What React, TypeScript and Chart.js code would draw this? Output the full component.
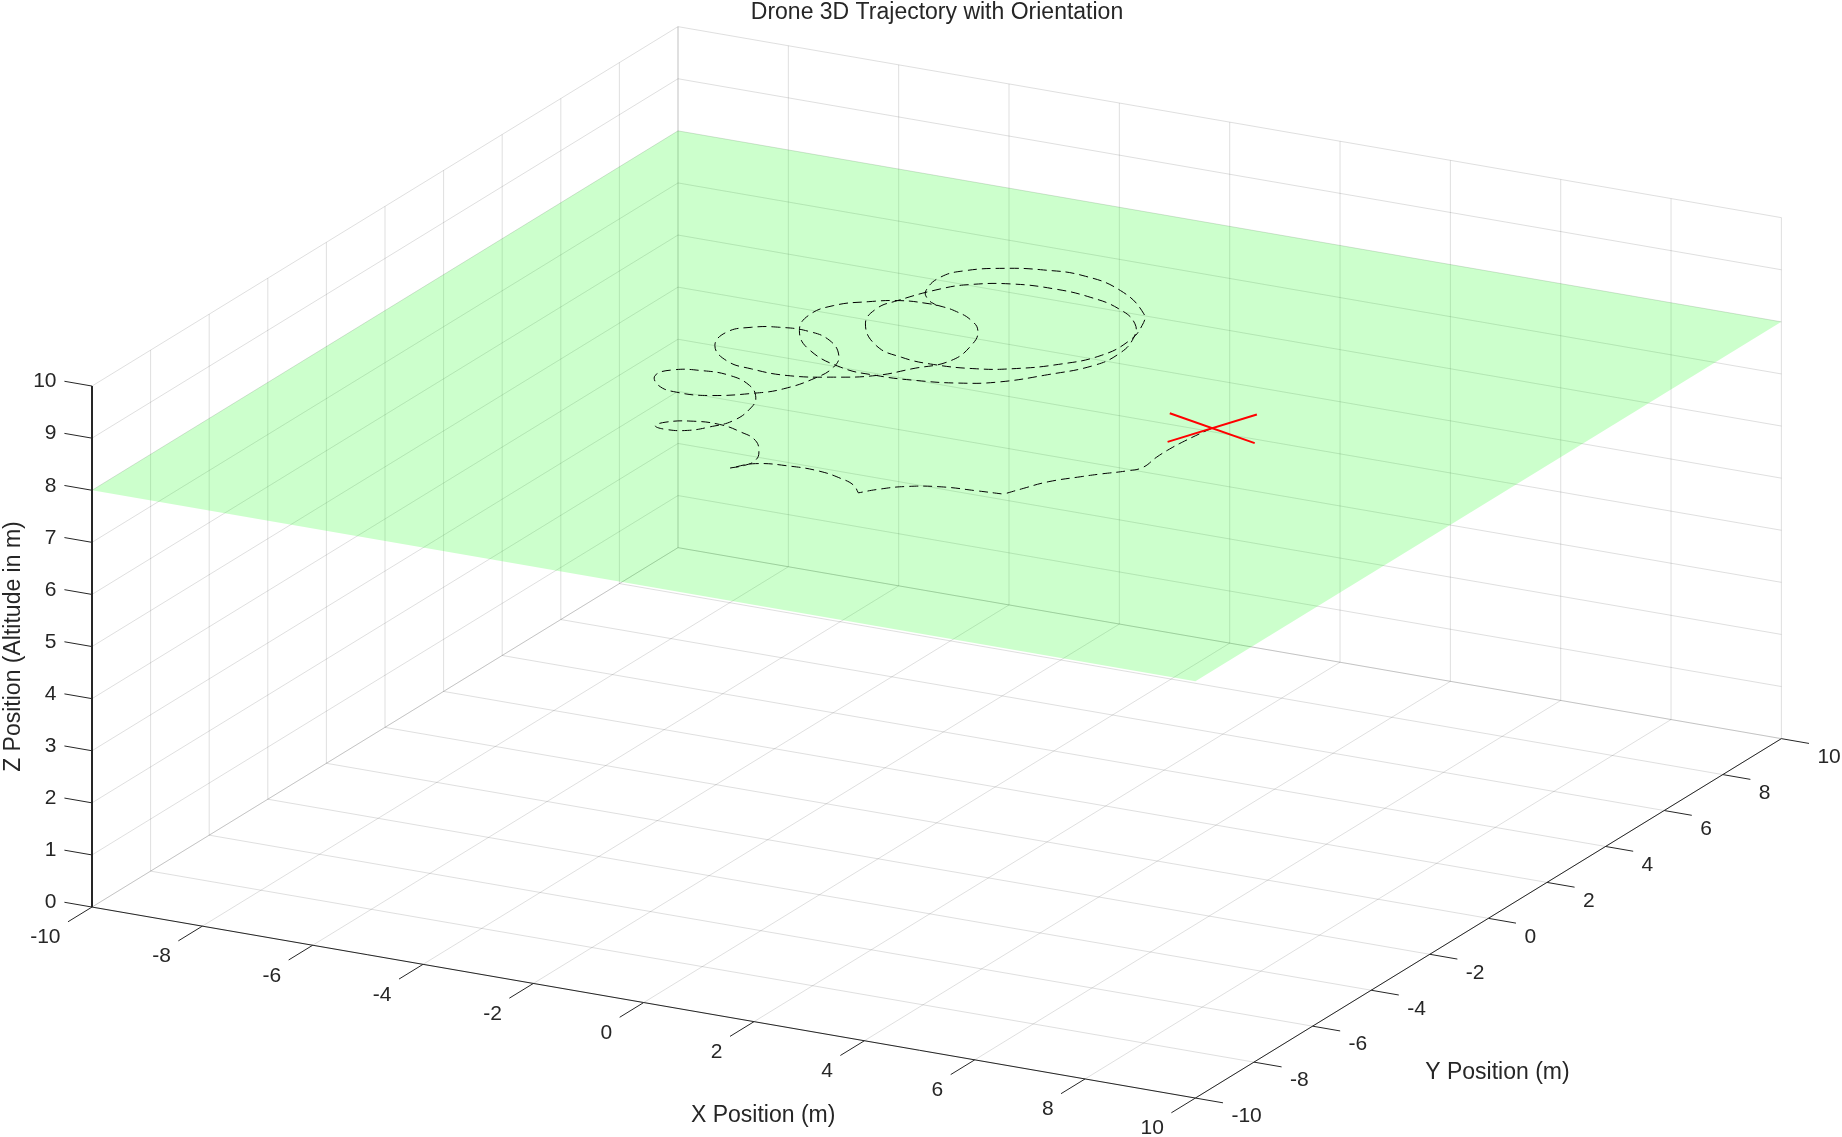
import React, { useEffect, useRef } from "react";
import { Chart, registerables } from "chart.js";

Chart.register(...registerables);

const titleText = "Drone 3D Trajectory with Orientation";
const xLabelText = "X Position (m)";
const yLabelText = "Y Position (m)";
const zLabelText = "Z Position (Altitude in m)";

const xTicks = [-10, -8, -6, -4, -2, 0, 2, 4, 6, 8, 10];
const yTicks = [-10, -8, -6, -4, -2, 0, 2, 4, 6, 8, 10];
const zTicks = [0, 1, 2, 3, 4, 5, 6, 7, 8, 9, 10];

const planeAltitude = 8;
const planeX = [-10, 10, 10, -10, -10];
const planeY = [-10, -10, 10, 10, -10];

const armAX = [3.46, 5.35];
const armAY = [1.44, 0.78];
const armBX = [4.09, 4.72];
const armBY = [0.18, 2.04];

const trajX = [
  4.404, 4.379, 4.31, 4.283, 4.288, 4.328, 4.188, 3.871, 3.66, 3.321, 3.122, 2.976, 2.976, 2.521, 1.925, 1.413,
  1.078, 0.893, 0.893, 0.651, 0.32, -0.151, -0.67, -1.235, -1.488, -1.488, -1.348, -1.312, -1.454, -1.773, -2.168,
  -2.646, -3.127, -3.457, -3.524, -3.288, -2.962, -2.736, -2.538, -2.592, -2.763, -3.118, -3.625, -4.143, -4.563,
  -4.684, -4.403, -3.997, -3.466, -2.865, -2.562, -2.361, -2.355, -2.548, -3.02, -3.538, -4.034, -4.437, -4.674,
  -4.529, -4.021, -3.476, -2.818, -2.125, -1.558, -1.208, -0.845, -0.926, -1.159, -1.506, -1.899, -2.216, -2.52, -2.935,
  -3.365, -3.777, -3.9, -3.68, -3.131, -2.254, -1.558, -0.888, -0.221, 0.311, 0.846, 1.287, 1.371, 1.226, 0.907,
  0.334, -0.339, -1.036, -1.756, -2.345, -2.649, -2.985, -3.095, -2.9, -2.25, -1.628, -1.005, -0.3, 0.204, 0.76,
  1.158, 1.215, 1.046, 0.802, -0.064, -0.939, -1.625, -2.218, -2.718, -2.918, -2.812, -2.595, -2.315,
];
const trajY = [
  1.109, 0.948, 0.337, -0.122, -0.582, -1.117, -1.377, -1.731, -1.991, -2.45, -2.926, -3.319, -3.319, -3.377,
  -3.473, -3.727, -4.072, -4.356, -4.356, -4.06, -3.865, -3.709, -3.708, -3.861, -4.237, -4.237, -4.015, -3.717,
  -3.33, -2.852, -2.6, -2.429, -2.5, -2.731, -2.971, -3.048, -2.93, -2.625, -2.149, -1.437, -0.972, -0.514, -0.228,
  -0.228, -0.414, -0.793, -1.199, -1.353, -1.255, -0.804, -0.402, 0.316, 0.911, 1.457, 2.039, 2.281, 2.239, 2.024,
  1.619, 0.957, 0.394, 0.221, 0.202, 0.479, 0.874, 1.431, 2.088, 2.97, 3.587, 3.995, 4.248, 4.357, 4.38, 4.306, 4.021,
  3.579, 2.958, 2.243, 1.516, 0.965, 0.874, 0.954, 1.161, 1.499, 2.194, 2.946, 3.64, 4.396, 5.059, 5.587, 5.876,
  5.968, 5.861, 5.51, 5.107, 4.279, 3.758, 3.028, 2.172, 1.855, 1.78, 1.915, 2.184, 2.721, 3.433, 4.297, 5.04,
  5.559, 6.393, 6.76, 6.709, 6.485, 6.088, 5.612, 4.928, 4.58, 4.359,
];

const INK = "#262626";
const GRID = "rgba(38,38,38,0.15)";
const FONT = '"Liberation Sans", Arial, Helvetica, sans-serif';
const TITLE_SIZE = 23;
const TITLE_LINE = 1.1;

// Orthographic view of the 3D box onto the chart's two linear scales.
function project(x: number, y: number, z: number) {
  return {
    x: 936.7 + 55.17 * x + 29.3 * y,
    y: 822.85 + 9.55 * x - 17.97 * y - 52.1 * z,
  };
}

type P3 = [number, number, number];

function lineDataset(
  pts: P3[],
  color: string,
  width: number,
  order: number,
  extra: Record<string, unknown> = {}
) {
  return {
    data: pts.map((p) => project(p[0], p[1], p[2])),
    showLine: true,
    borderColor: color,
    borderWidth: width,
    pointRadius: 0,
    tension: 0,
    clip: false,
    order,
    ...extra,
  };
}

function buildDatasets() {
  const sets: any[] = [];
  const grid = (a: P3, b: P3) => sets.push(lineDataset([a, b], GRID, 1, 5));
  const axis = (a: P3, b: P3, w = 1) => sets.push(lineDataset([a, b], INK, w, 3));

  for (const x of xTicks) {
    grid([x, -10, 0], [x, 10, 0]); // floor
    grid([x, 10, 0], [x, 10, 10]); // back wall
  }
  for (const y of yTicks) {
    grid([-10, y, 0], [10, y, 0]); // floor
    grid([-10, y, 0], [-10, y, 10]); // side wall
  }
  for (const z of zTicks) {
    grid([-10, -10, z], [-10, 10, z]);
    grid([-10, 10, z], [10, 10, z]);
  }

  sets.push({
    ...lineDataset(
      planeX.map((x, i) => [x, planeY[i], planeAltitude] as P3),
      "rgba(0,0,0,0)",
      0,
      4
    ),
    fill: "shape",
    backgroundColor: "rgba(0,255,0,0.2)",
  });

  axis([-10, -10, 0], [10, -10, 0]);
  axis([10, -10, 0], [10, 10, 0]);
  axis([-10, -10, 0], [-10, -10, 10], 2);
  for (const x of xTicks) axis([x, -10, 0], [x, -10.82, 0]);
  for (const y of yTicks) axis([10, y, 0], [10.5, y, 0]);
  for (const z of zTicks) axis([-10, -10, z], [-10.5, -10, z]);

  sets.push(
    lineDataset(
      trajX.map((x, i) => [x, trajY[i], planeAltitude] as P3),
      "#000000",
      1,
      2,
      { borderDash: [9, 5], tension: 0.45 }
    )
  );
  sets.push(lineDataset(armAX.map((x, i) => [x, armAY[i], planeAltitude] as P3), "#ff0000", 2, 1));
  sets.push(lineDataset(armBX.map((x, i) => [x, armBY[i], planeAltitude] as P3), "#ff0000", 2, 1));
  return sets;
}

const axisTextPlugin = {
  id: "axisText",
  afterDraw(chart: any) {
    const { ctx, scales } = chart;
    const at = (x: number, y: number, z: number) => {
      const p = project(x, y, z);
      return { x: scales.x.getPixelForValue(p.x), y: scales.y.getPixelForValue(p.y) };
    };
    ctx.save();
    ctx.fillStyle = INK;
    ctx.textBaseline = "middle";
    ctx.font = `21px ${FONT}`;
    ctx.textAlign = "right";
    for (const x of xTicks) {
      const p = at(x, -10, 0);
      ctx.fillText(String(x), p.x - 31.5, p.y + 30.5);
    }
    for (const z of zTicks) {
      const p = at(-10, -10, z);
      ctx.fillText(String(z), p.x - 35.5, p.y - 4.5);
    }
    ctx.textAlign = "left";
    for (const y of yTicks) {
      const p = at(10, y, 0);
      ctx.fillText(String(y), p.x + 36, p.y + 18.5);
    }
    ctx.font = `23px ${FONT}`;
    ctx.textAlign = "center";
    const xl = at(0, -10, 0);
    ctx.fillText(xLabelText, xl.x + 119.5, xl.y + 113.5);
    const yl = at(10, 0, 0);
    ctx.fillText(yLabelText, yl.x + 9, yl.y + 154.5);
    const zl = at(-10, -10, 5);
    ctx.translate(zl.x - 78, zl.y + 0);
    ctx.rotate(-Math.PI / 2);
    ctx.fillText(zLabelText, 0, 0);
    ctx.restore();
  },
};

export default function App() {
  const ref = useRef<HTMLCanvasElement>(null);
  useEffect(() => {
    if (!ref.current) return;
    const chart = new Chart(ref.current, {
      type: "scatter",
      data: { datasets: buildDatasets() },
      plugins: [axisTextPlugin],
      options: {
        responsive: false,
        animation: false,
        devicePixelRatio: 1,
        events: [],
        layout: { padding: { left: 32, right: 0, top: 0, bottom: 0 } },
        scales: {
          x: { type: "linear", min: 32, max: 1842, display: false },
          y: { type: "linear", min: TITLE_SIZE * TITLE_LINE, max: 1137, reverse: true, display: false },
        },
        plugins: {
          legend: { display: false },
          tooltip: { enabled: false },
          title: {
            display: true,
            text: titleText,
            color: INK,
            padding: 0,
            font: { family: FONT, size: TITLE_SIZE, weight: "normal", lineHeight: TITLE_LINE },
          },
        },
      },
    } as any);
    return () => chart.destroy();
  }, []);
  return (
    <canvas
      ref={ref}
      width={1842}
      height={1137}
      style={{ position: "fixed", left: 0, top: 0, display: "block", background: "#ffffff" }}
    />
  );
}
